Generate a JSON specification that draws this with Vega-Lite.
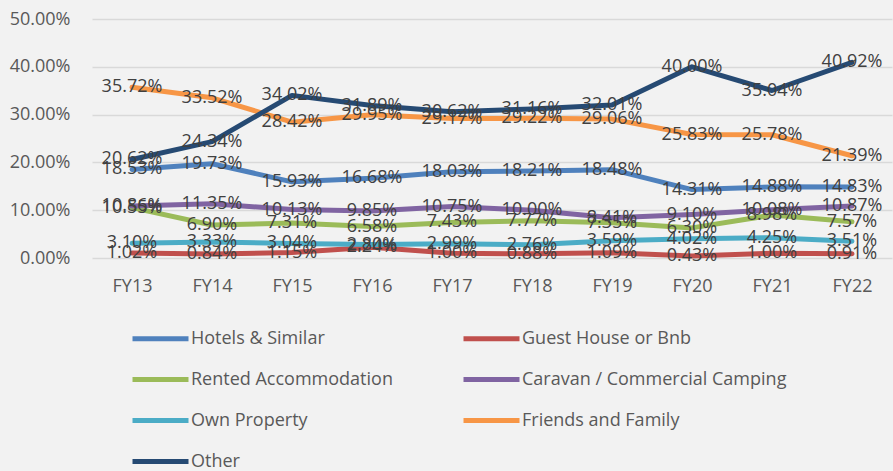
{
  "$schema": "https://vega.github.io/schema/vega-lite/v6.json",
  "autosize": {"type": "none"},
  "padding": {"left": 92, "top": 19, "right": 1, "bottom": 213},
  "width": 800,
  "height": 239,
  "background": "#F2F2F2",
  "config": {"view": {"stroke": null}, "font": "Open Sans"},
  "data": {"values": [
    {"year":"FY13","series":"Hotels & Similar","value":0.1853},
    {"year":"FY14","series":"Hotels & Similar","value":0.1973},
    {"year":"FY15","series":"Hotels & Similar","value":0.1593},
    {"year":"FY16","series":"Hotels & Similar","value":0.1668},
    {"year":"FY17","series":"Hotels & Similar","value":0.1803},
    {"year":"FY18","series":"Hotels & Similar","value":0.1821},
    {"year":"FY19","series":"Hotels & Similar","value":0.1848},
    {"year":"FY20","series":"Hotels & Similar","value":0.1431},
    {"year":"FY21","series":"Hotels & Similar","value":0.1488},
    {"year":"FY22","series":"Hotels & Similar","value":0.1483},
    {"year":"FY13","series":"Guest House or Bnb","value":0.0102},
    {"year":"FY14","series":"Guest House or Bnb","value":0.0084},
    {"year":"FY15","series":"Guest House or Bnb","value":0.0115},
    {"year":"FY16","series":"Guest House or Bnb","value":0.0224},
    {"year":"FY17","series":"Guest House or Bnb","value":0.0100},
    {"year":"FY18","series":"Guest House or Bnb","value":0.0088},
    {"year":"FY19","series":"Guest House or Bnb","value":0.0109},
    {"year":"FY20","series":"Guest House or Bnb","value":0.0043},
    {"year":"FY21","series":"Guest House or Bnb","value":0.0100},
    {"year":"FY22","series":"Guest House or Bnb","value":0.0091},
    {"year":"FY13","series":"Rented Accommodation","value":0.1055},
    {"year":"FY14","series":"Rented Accommodation","value":0.0690},
    {"year":"FY15","series":"Rented Accommodation","value":0.0731},
    {"year":"FY16","series":"Rented Accommodation","value":0.0658},
    {"year":"FY17","series":"Rented Accommodation","value":0.0743},
    {"year":"FY18","series":"Rented Accommodation","value":0.0777},
    {"year":"FY19","series":"Rented Accommodation","value":0.0735},
    {"year":"FY20","series":"Rented Accommodation","value":0.0630},
    {"year":"FY21","series":"Rented Accommodation","value":0.0898},
    {"year":"FY22","series":"Rented Accommodation","value":0.0757},
    {"year":"FY13","series":"Caravan / Commercial Camping","value":0.1086},
    {"year":"FY14","series":"Caravan / Commercial Camping","value":0.1135},
    {"year":"FY15","series":"Caravan / Commercial Camping","value":0.1013},
    {"year":"FY16","series":"Caravan / Commercial Camping","value":0.0985},
    {"year":"FY17","series":"Caravan / Commercial Camping","value":0.1075},
    {"year":"FY18","series":"Caravan / Commercial Camping","value":0.1000},
    {"year":"FY19","series":"Caravan / Commercial Camping","value":0.0841},
    {"year":"FY20","series":"Caravan / Commercial Camping","value":0.0910},
    {"year":"FY21","series":"Caravan / Commercial Camping","value":0.1008},
    {"year":"FY22","series":"Caravan / Commercial Camping","value":0.1087},
    {"year":"FY13","series":"Own Property","value":0.0310},
    {"year":"FY14","series":"Own Property","value":0.0333},
    {"year":"FY15","series":"Own Property","value":0.0304},
    {"year":"FY16","series":"Own Property","value":0.0280},
    {"year":"FY17","series":"Own Property","value":0.0299},
    {"year":"FY18","series":"Own Property","value":0.0276},
    {"year":"FY19","series":"Own Property","value":0.0359},
    {"year":"FY20","series":"Own Property","value":0.0402},
    {"year":"FY21","series":"Own Property","value":0.0425},
    {"year":"FY22","series":"Own Property","value":0.0351},
    {"year":"FY13","series":"Friends and Family","value":0.3572},
    {"year":"FY14","series":"Friends and Family","value":0.3352},
    {"year":"FY15","series":"Friends and Family","value":0.2842},
    {"year":"FY16","series":"Friends and Family","value":0.2995},
    {"year":"FY17","series":"Friends and Family","value":0.2917},
    {"year":"FY18","series":"Friends and Family","value":0.2922},
    {"year":"FY19","series":"Friends and Family","value":0.2906},
    {"year":"FY20","series":"Friends and Family","value":0.2583},
    {"year":"FY21","series":"Friends and Family","value":0.2578},
    {"year":"FY22","series":"Friends and Family","value":0.2139},
    {"year":"FY13","series":"Other","value":0.2062},
    {"year":"FY14","series":"Other","value":0.2434},
    {"year":"FY15","series":"Other","value":0.3402},
    {"year":"FY16","series":"Other","value":0.3189},
    {"year":"FY17","series":"Other","value":0.3062},
    {"year":"FY18","series":"Other","value":0.3116},
    {"year":"FY19","series":"Other","value":0.3201},
    {"year":"FY20","series":"Other","value":0.4000},
    {"year":"FY21","series":"Other","value":0.3504},
    {"year":"FY22","series":"Other","value":0.4092}
  ]},
  "encoding": {
    "x": {"field": "year", "type": "ordinal", "sort": null,
      "scale": {"type": "point", "padding": 0.5},
      "axis": {"title": null, "domain": false, "ticks": false, "grid": false, "labelAngle": 0,
        "labelFont": "Open Sans", "labelFontSize": 18, "labelColor": "#595959", "labelPadding": 19}},
    "y": {"field": "value", "type": "quantitative",
      "scale": {"domain": [0, 0.5], "nice": false},
      "axis": {"title": null, "format": ".2%", "values": [0, 0.1, 0.2, 0.3, 0.4, 0.5],
        "domain": false, "ticks": false, "gridColor": "#D9D9D9", "gridWidth": 1.5,
        "labelFont": "Open Sans", "labelFontSize": 18, "labelColor": "#595959", "labelPadding": 22}}
  },
  "layer": [
    {
      "mark": {"type": "line", "strokeWidth": 5, "strokeCap": "round", "strokeJoin": "round"},
      "encoding": {
        "color": {"field": "series", "type": "nominal",
          "scale": {
            "domain": ["Hotels & Similar", "Guest House or Bnb", "Rented Accommodation", "Caravan / Commercial Camping", "Own Property", "Friends and Family", "Other"],
            "range": ["#4F81BD", "#C0504D", "#9BBB59", "#8064A2", "#4BACC6", "#F79646", "#264A73"]
          },
          "legend": {
            "title": null, "orient": "none", "legendX": 38, "legendY": 289,
            "direction": "horizontal",
            "columns": 2, "columnPadding": 60, "rowPadding": -14,
            "symbolType": "stroke", "symbolSize": 3136, "symbolStrokeWidth": 5,
            "labelFont": "Open Sans", "labelFontSize": 18, "labelColor": "#595959",
            "labelOffset": 0, "labelLimit": 400
          }
        }
      }
    },
    {
      "mark": {"type": "text", "fontSize": 18, "font": "Open Sans", "color": "#404040", "align": "center", "baseline": "middle"},
      "encoding": {
        "text": {"field": "value", "type": "quantitative", "format": ".2%"}
      }
    }
  ]
}
